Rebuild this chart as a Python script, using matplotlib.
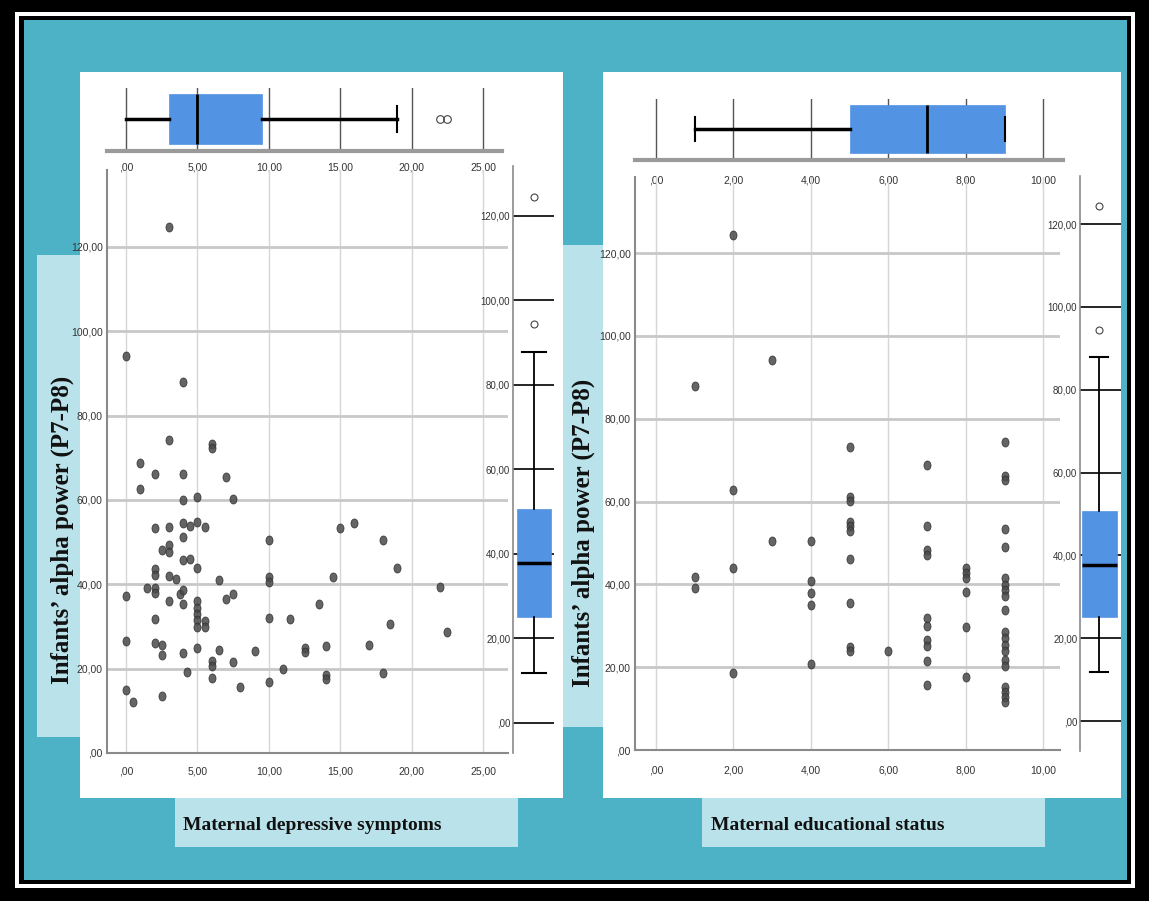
import matplotlib
matplotlib.use("Agg")
import matplotlib.pyplot as plt
from matplotlib.patches import Rectangle
from matplotlib.path import Path
from matplotlib.transforms import Affine2D

# ---- data ----
depr_x = [3, 0, 4, 3, 6, 6, 1, 2, 4, 7, 1, 5, 4, 7.5,
          2, 3, 4, 4, 4.5, 5, 5.5, 2.5, 3, 3, 4, 4.5, 5, 2, 2, 3, 3.5, 6.5,
          1.5, 2, 2, 3.75, 4, 4, 3, 7, 7.5, 0, 5, 5, 5, 5, 5, 5.5, 5.5, 2,
          0, 2, 2.5, 2.5, 4, 5, 6.5, 6, 6, 6, 4.3, 7.5, 8, 0, 0.5, 2.5,
          10, 10, 10, 10, 10, 9, 11, 11.5, 12.5, 12.5, 13.5, 14, 14, 14,
          14.5, 15, 16, 17, 18, 18, 18.5, 19, 22, 22.5]
depr_y = [124.6, 94.2, 87.9, 74.2, 73.3, 72.3, 68.8, 66.1, 66.2, 65.5, 62.6, 60.6, 60.0, 60.1,
          53.3, 53.5, 54.5, 51.2, 53.7, 54.7, 53.5, 48.2, 49.2, 47.6, 45.7, 46.0, 43.9, 43.7, 42.1, 41.9, 41.3, 40.9,
          39.1, 39.2, 38.0, 37.8, 38.6, 35.3, 36.1, 36.6, 37.8, 37.2, 36.1, 34.3, 32.9, 31.5, 29.9, 31.3, 29.9, 31.7,
          26.5, 26.0, 25.6, 23.2, 23.8, 25.0, 24.4, 21.9, 20.6, 17.7, 19.3, 21.5, 15.7, 15.0, 12.0, 13.5,
          50.6, 41.7, 40.6, 32.1, 16.9, 24.2, 19.9, 31.7, 24.8, 23.9, 35.4, 25.4, 18.5, 17.5,
          41.7, 53.4, 54.5, 25.6, 50.4, 18.9, 30.6, 43.9, 39.4, 28.6]

edu_x = [2, 3, 1, 5, 7, 9, 9, 9, 2, 5, 5, 5, 5, 5, 5, 5, 5, 5,
         3, 4, 4, 4, 4, 4, 2, 2, 1, 1, 6,
         7, 7, 7, 7, 7, 7, 7, 7, 7, 8, 8, 8, 8, 8, 8,
         9, 9, 9, 9, 9, 9, 9, 9, 9, 9, 9, 9, 9, 9, 9, 9, 9]
edu_y = [124.3, 94.1, 87.9, 73.3, 68.9, 74.4, 66.1, 65.2, 62.7, 61.0, 60.1, 55.0, 54.0, 53.0, 46.1, 35.6, 24.8, 23.8,
         50.6, 50.6, 40.7, 37.9, 35.1, 20.8, 44.0, 18.7, 41.7, 39.1, 23.8,
         54.2, 48.2, 47.2, 31.9, 30.0, 26.6, 25.0, 21.5, 15.6, 44.0, 42.7, 41.5, 38.1, 29.8, 17.7,
         53.5, 49.0, 41.5, 39.9, 38.7, 37.1, 33.7, 28.6, 27.0, 25.4, 23.8, 21.8, 20.2, 15.3, 14.1, 12.9, 11.7]

# box-plot summaries as drawn
depr_box = dict(whislo=0, q1=3, med=5, q3=9.5, whishi=19, fliers=[22, 22.5])
edu_box = dict(whislo=1, q1=5, med=7, q3=9, whishi=9, fliers=[])
alpha_box = dict(whislo=11.8, q1=25.1, med=37.8, q3=50.7, whishi=87.8, fliers=[94.4, 124.4])

depr_ticks = [0, 5, 10, 15, 20, 25]
depr_labels = [",00", "5,00", "10,00", "15,00", "20,00", "25,00"]
edu_ticks = [0, 2, 4, 6, 8, 10]
edu_labels = [",00", "2,00", "4,00", "6,00", "8,00", "10,00"]
alpha_ticks = [0, 20, 40, 60, 80, 100, 120]
alpha_labels = [",00", "20,00", "40,00", "60,00", "80,00", "100,00", "120,00"]

ylabel = "Infants\u2019 alpha power (P7-P8)"
xlabel_left = "Maternal depressive symptoms"
xlabel_right = "Maternal educational status"

# ---- layout helpers (pixel coords, origin top-left) ----
W, H = 1149, 901
TEAL = "#4db2c6"
LIGHT = "#b9e2ea"
BLUE = "#5393e3"
TICKFONT = ["Liberation Sans Narrow", "Liberation Sans", "DejaVu Sans"]
SERIF = ["Liberation Serif", "DejaVu Serif"]

fig = plt.figure(figsize=(W / 100, H / 100), dpi=100)
fig.patch.set_facecolor("black")


def frac(x0, y0, x1, y1):
    return [x0 / W, 1 - y1 / H, (x1 - x0) / W, (y1 - y0) / H]


def rect(x0, y0, x1, y1, color, z=-5):
    l, b, w, h = frac(x0, y0, x1, y1)
    fig.add_artist(Rectangle((l, b), w, h, transform=fig.transFigure,
                             facecolor=color, edgecolor="none", zorder=z))


rect(15, 12, 1135, 888, "white", -9)
rect(19, 16, 1131, 884, "black", -8)
rect(24, 20, 1127, 880, TEAL, -7)
rect(80, 72, 563, 798, "white", -6)
rect(603, 72, 1121, 798, "white", -6)
rect(37, 255, 80, 737, LIGHT, -6)
rect(563, 245, 603, 727, LIGHT, -6)
rect(175, 798, 518, 847, LIGHT, -6)
rect(702, 798, 1045, 847, LIGHT, -6)

# elliptic dot like the squeezed SPSS markers
dot = Path.unit_circle().transformed(Affine2D().scale(0.78, 1.0))


def style_ticks(ax, axis, size=7.5):
    for lab in (ax.get_xticklabels() if axis == "x" else ax.get_yticklabels()):
        lab.set_fontfamily(TICKFONT)
        lab.set_fontsize(size)
        lab.set_color("#333333")


def top_box(ax, stats, ticks, labels, xlim, capw, pad, hide_low_cap=False):
    ax.set_facecolor("none")
    for t in ticks:
        ax.axvline(t, color="#555555", lw=1, zorder=1)
    parts = ax.bxp([stats], positions=[0.508], widths=0.79, orientation="horizontal",
                   patch_artist=True, capwidths=capw,
                   boxprops=dict(facecolor=BLUE, edgecolor=BLUE, lw=0.5),
                   medianprops=dict(color="black", lw=2),
                   whiskerprops=dict(color="black", lw=2.5),
                   capprops=dict(color="black", lw=1.5),
                   flierprops=dict(marker="o", mfc="none", mec="#444444", ms=5.5, mew=0.8))
    if hide_low_cap:
        parts["caps"][0].set_visible(False)
    ax.set_xlim(*xlim)
    ax.set_ylim(0, 1)
    for s in ["top", "left", "right"]:
        ax.spines[s].set_visible(False)
    ax.spines["bottom"].set_color("#9a9a9a")
    ax.spines["bottom"].set_linewidth(3)
    ax.set_xticks(ticks)
    ax.set_xticklabels(labels)
    ax.set_yticks([])
    ax.tick_params(axis="x", length=0, pad=pad)
    style_ticks(ax, "x")


def scatter_panel(ax, x, y, ticks, labels, xlim, ytop, pad):
    ax.set_facecolor("none")
    ax.scatter(x, y, marker=dot, s=42, facecolor="#4a4a4a", edgecolor="#2e2e2e",
               linewidth=0.6, alpha=0.85, zorder=3)
    ax.set_xlim(*xlim)
    ax.set_ylim(0, ytop)
    ax.set_xticks(ticks)
    ax.set_xticklabels(labels)
    ax.set_yticks(alpha_ticks)
    ax.set_yticklabels(alpha_labels)
    ax.grid(axis="y", color="#c8c8c8", lw=2)
    ax.grid(axis="x", color="#d6d6d6", lw=1)
    ax.set_axisbelow(True)
    for s in ["top", "right"]:
        ax.spines[s].set_visible(False)
    for s in ["left", "bottom"]:
        ax.spines[s].set_color("#8a8a8a")
        ax.spines[s].set_linewidth(1.5)
    ax.tick_params(axis="x", length=0, pad=pad)
    ax.tick_params(axis="y", length=0, pad=3)
    style_ticks(ax, "x")
    style_ticks(ax, "y")


def side_box(ax, ylim, pos, width, capw):
    ax.set_facecolor("none")
    for t in alpha_ticks:
        ax.axhline(t, color="black", lw=1.2, zorder=0.5)
    ax.bxp([alpha_box], positions=[pos], widths=width, patch_artist=True,
           capwidths=capw,
           boxprops=dict(facecolor=BLUE, edgecolor=BLUE, lw=0.5),
           medianprops=dict(color="black", lw=2.5),
           whiskerprops=dict(color="black", lw=1.3),
           capprops=dict(color="black", lw=1.5),
           flierprops=dict(marker="o", mfc="none", mec="#444444", ms=5, mew=0.8))
    ax.set_xlim(0, 1)
    ax.set_ylim(*ylim)
    for s in ["top", "right", "bottom"]:
        ax.spines[s].set_visible(False)
    ax.spines["left"].set_color("#8a8a8a")
    ax.spines["left"].set_linewidth(1.2)
    ax.set_xticks([])
    ax.set_yticks(alpha_ticks)
    ax.set_yticklabels(alpha_labels)
    ax.tick_params(axis="y", length=0, pad=2)
    style_ticks(ax, "y", 7)


# ---- left panel ----
axL_box = fig.add_axes(frac(107, 88, 502, 151))
top_box(axL_box, depr_box, depr_ticks, depr_labels, (-1.33, 26.33), 0.4, 8, hide_low_cap=True)

axL_sc = fig.add_axes(frac(107, 170, 508, 753))
scatter_panel(axL_sc, depr_x, depr_y, depr_ticks, depr_labels, (-1.33, 26.75), 138.2, 10)

axL_side = fig.add_axes(frac(513, 166, 554, 753))
side_box(axL_side, (-7.1, 131.8), 0.51, 0.83, 0.6)

# ---- right panel ----
axR_box = fig.add_axes(frac(635, 99, 1063, 160))
top_box(axR_box, edu_box, edu_ticks, edu_labels, (-0.54, 10.51), 0.39, 11.5)

axR_sc = fig.add_axes(frac(635, 177, 1060, 750))
scatter_panel(axR_sc, edu_x, edu_y, edu_ticks, edu_labels, (-0.54, 10.43), 138.4, 11)

axR_side = fig.add_axes(frac(1080, 176, 1121, 751))
side_box(axR_side, (-7.2, 131.6), 0.475, 0.85, 0.44)

# ---- labels ----
for cx, cy in [(62, 530), (583, 533)]:
    fig.text(cx / W, 1 - cy / H, ylabel, rotation=90, ha="center", va="center",
             family=SERIF, fontweight="bold", fontsize=18, color="#111111")

fig.text(183 / W, 1 - 826 / H, xlabel_left, ha="left", va="center",
         family=SERIF, fontweight="bold", fontsize=14, color="#111111")
fig.text(711 / W, 1 - 826 / H, xlabel_right, ha="left", va="center",
         family=SERIF, fontweight="bold", fontsize=14, color="#111111")

fig.savefig("out.png", dpi=100, facecolor=fig.get_facecolor())
